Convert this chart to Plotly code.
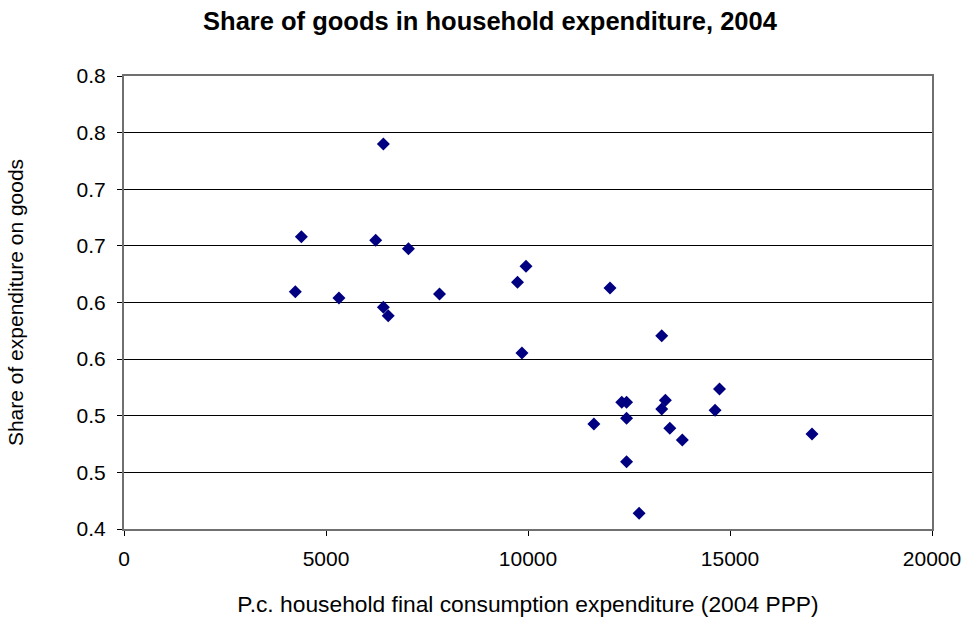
import plotly.graph_objects as go

# Per-capita household final consumption expenditure (2004 PPP)
consumption = [4390, 4240, 5320, 6420, 6230, 7040, 6420, 6540, 7810,
               9950, 9740, 12030, 13310, 9850, 14740, 12320, 12440, 13400,
               13310, 14630, 12440, 11630, 13510, 13820, 17030, 12440, 12750]

# Share of household expenditure spent on goods
goods_share = [0.658, 0.6095, 0.604, 0.740, 0.655, 0.6475, 0.5957, 0.5884, 0.6075,
               0.632, 0.6178, 0.6128, 0.5707, 0.5554, 0.5236, 0.5119, 0.5119, 0.5136,
               0.506, 0.5048, 0.4977, 0.4927, 0.4889, 0.4786, 0.4839, 0.4594, 0.4139]

# Y ticks every 0.05, labelled with one decimal
y_tick_values = [0.40, 0.45, 0.50, 0.55, 0.60, 0.65, 0.70, 0.75, 0.80]
y_tick_labels = ["0.4", "0.5", "0.5", "0.6", "0.6", "0.7", "0.7", "0.8", "0.8"]
x_tick_values = [0, 5000, 10000, 15000, 20000]

font_family = "Liberation Sans, Arial, sans-serif"

fig = go.Figure(
    go.Scatter(
        x=consumption,
        y=goods_share,
        mode="markers",
        marker=dict(symbol="diamond", size=10, color="#000080",
                    line=dict(width=0)),
        showlegend=False,
        hoverinfo="x+y",
    )
)

fig.update_layout(
    width=965,
    height=617,
    margin=dict(l=124, r=33, t=76, b=88, autoexpand=False),
    paper_bgcolor="white",
    plot_bgcolor="white",
    font=dict(family=font_family, size=21, color="black"),
    title=dict(
        text="<b>Share of goods in household expenditure, 2004</b>",
        x=490 / 965, xref="container", xanchor="center",
        y=1 - 21 / 617, yref="container", yanchor="middle",
        font=dict(family=font_family, size=25.5, color="black"),
    ),
)

fig.update_xaxes(
    range=[0, 20000],
    tickvals=x_tick_values,
    ticktext=[str(v) for v in x_tick_values],
    automargin=False,
    showgrid=False,
    zeroline=False,
    showline=True,
    linecolor="#707070",
    linewidth=2,
    mirror=True,
    ticks="outside",
    ticklen=5,
    tickcolor="black",
    ticklabelstandoff=5,
    tickfont=dict(size=21),
    title=dict(text="P.c. household final consumption expenditure (2004 PPP)",
               font=dict(size=22.8), standoff=29),
)

fig.update_yaxes(
    range=[0.4, 0.8],
    tickvals=y_tick_values,
    ticktext=y_tick_labels,
    automargin=False,
    showgrid=True,
    gridcolor="black",
    gridwidth=1,
    zeroline=False,
    showline=True,
    linecolor="#707070",
    linewidth=2,
    mirror=True,
    ticks="outside",
    ticklen=5,
    tickcolor="black",
    ticklabelstandoff=7,
    tickfont=dict(size=21),
    title=dict(text="Share of expenditure on goods", font=dict(size=21), standoff=47),
)

fig.write_html("out.html")
